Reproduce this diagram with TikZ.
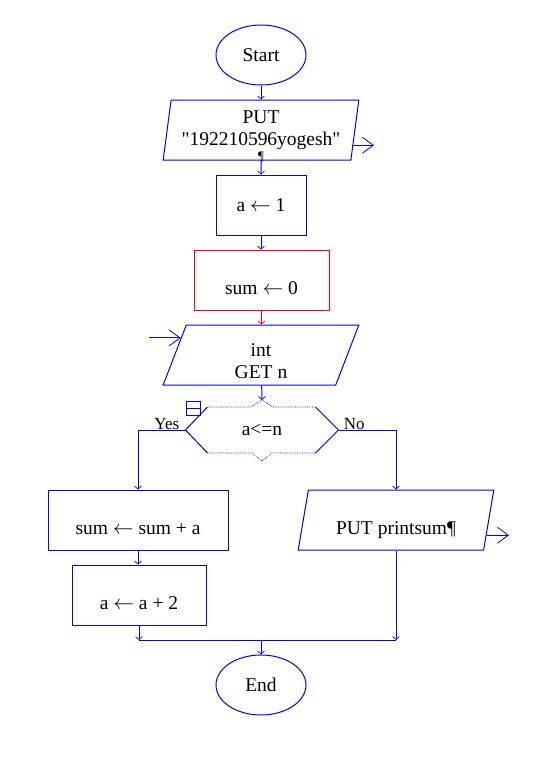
\documentclass[tikz,border=0pt]{standalone}
\usepackage{fontspec}
\setmainfont{Liberation Serif}[Ligatures=TeXOff]
\usetikzlibrary{shapes.geometric}
\usetikzlibrary{arrows.meta}
\usetikzlibrary{calc}

\newcommand{\lowtxt}{\rule[-5pt]{0pt}{39pt}}
\newcommand{\assign}{$\leftarrow$}

\begin{document}
\begin{tikzpicture}[x=1pt,y=-1pt,line width=1pt,
  font=\fontsize{19.5}{22}\selectfont,
  term/.style={draw=blue,ellipse,minimum width=90,minimum height=60,inner sep=0pt},
  proc/.style={draw=blue,rectangle,minimum height=60,inner sep=2pt},
  io/.style={draw=blue,trapezium,trapezium left angle=80.5,trapezium right angle=99.5,
    trapezium stretches=true,minimum width=196,minimum height=60,inner sep=2pt,align=center},
  link/.style={-{Straight Barb[length=3pt,width=7pt,line width=0.7pt]}},
  port/.style={draw=blue,-{Straight Barb[length=11pt,width=16pt,line width=0.8pt]}},
  lab/.style={font=\fontsize{17}{20}\selectfont},
  edge/.style={blue,densely dotted,line width=0.7pt}]
\useasboundingbox (0,0) rectangle (537,761);

% main column
\node[term] (start) at (261,55) {Start};
\node[io] (put) at (261,130) {PUT\\"192210596yogesh"};
\node[proc,minimum width=90] (a1) at (261,205) {a \assign{} 1};
\node[proc,draw=red,minimum width=135] (sum0) at (261.5,280) {\lowtxt sum \assign{} 0};
\node[io] (get) at (261,355) {\rule{0pt}{26pt}int\\GET n};
\node[minimum width=152,minimum height=45,inner sep=0pt] (cond) at (262,430) {a<=n};
\node[proc,minimum width=180] (sum) at (138,520) {\lowtxt sum \assign{} sum + a};
\node[proc,minimum width=134] (a2) at (139,595) {\lowtxt a \assign{} a + 2};
\node[io] (print) at (396,520) {\lowtxt PUT printsum¶};
\node[term] (end) at (261,685) {End};
\node[inner sep=0pt] (pil) at (261,157) {\fontsize{13}{13}\selectfont ¶};

% decision outline
\coordinate (ctop) at ([yshift=7]cond.north);
\draw[blue] ([xshift=22]cond.north west) -- (cond.west) -- ([xshift=22]cond.south west);
\draw[blue] ([xshift=-23]cond.north east) -- (cond.east) -- ([xshift=-23]cond.south east);
\draw[edge] ([xshift=22]cond.north west) -- ([xshift=-11]cond.north) -- (ctop)
  -- ([xshift=11]cond.north) -- ([xshift=-23]cond.north east);
\draw[edge] ([xshift=22]cond.south west) -- ([xshift=-10]cond.south) -- ([yshift=-8]cond.south)
  -- ([xshift=10]cond.south) -- ([xshift=-23]cond.south east);
\node[draw=blue,minimum size=14,inner sep=0pt,line width=0.8pt] (icon) at (193,408) {};
\draw[blue,line width=0.8pt] (icon.west) -- (icon.east);
\node[lab,anchor=base east] (yes) at (183,429) {Yes};
\node[lab,anchor=base west] (no) at (340,429) {No};

% connectors
\draw[blue,link] (start) -- (put);
\draw[blue,link] (put) -- (a1);
\draw[blue,link] (a1.south) -- (a1.south |- sum0.north);
\draw[red,link] (sum0.south) -- (sum0.south |- get.north);
\draw[blue,link] (get) -- (ctop);
\draw[blue,link] (cond.west) -| (sum.north);
\draw[blue,link] (cond.east) -| (print.north);
\draw[blue,link] (sum.south) -- (sum.south |- a2.north);
\coordinate (join) at (261,640);
\draw[blue,link] (a2.south) -- (a2.south |- join);
\draw[blue,link] (print.south) -- (print.south |- join);
\draw[blue] (a2.south |- join) -- (print.south |- join);
\draw[blue,link] (join) -- (end);

% free ports
\coordinate (putp) at ($(put.bottom right corner)!0.25!(put.top right corner)$);
\coordinate (putout) at (374,145);
\draw[port] (putp) -- (putp -| putout);
\coordinate (getp) at ($(get.bottom left corner)!0.78!(get.top left corner)$);
\coordinate (getin) at (149,338);
\draw[port] (getp -| getin) -- (getp);
\coordinate (printp) at ($(print.bottom right corner)!0.25!(print.top right corner)$);
\coordinate (printout) at (509,535);
\draw[port] (printp) -- (printp -| printout);
\end{tikzpicture}
\end{document}
